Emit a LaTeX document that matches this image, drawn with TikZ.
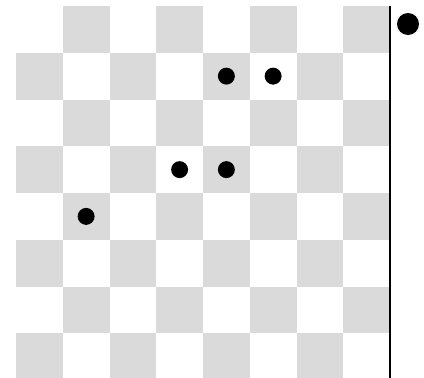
\documentclass[tikz,border=0pt]{standalone}
\definecolor{cellgrey}{RGB}{218,218,218}
\begin{document}
\begin{tikzpicture}[x=1pt,y=-1pt,
  cell/.style={fill=cellgrey,draw=none},
  stone/.style={circle,fill=black,inner sep=0pt,minimum size=17pt},
  bigstone/.style={circle,fill=black,inner sep=0pt,minimum size=22pt}]
\useasboundingbox[fill=white] (0,0) rectangle (424,378);
\def\cw{46.75}
\begin{scope}
\clip (0,0) rectangle (424,378);
\foreach \r in {0,...,7}{
  \foreach \c in {0,...,7}{
    \pgfmathtruncatemacro{\myparity}{mod(\r+\c,2)}
    \ifnum\myparity=1
      \fill[cell] ({16+\c*\cw},{6+\r*\cw}) rectangle ({16+(\c+1)*\cw},{6+(\r+1)*\cw});
    \fi
  }
}
\end{scope}
\coordinate (ltop) at (390,6);
\coordinate (lbot) at (390,378);
\draw[line width=1.1pt] (ltop) -- (lbot);
\node[stone] (s1) at ({16+4.5*\cw},{6+1.5*\cw}) {};
\node[stone] (s2) at ({16+5.5*\cw},{6+1.5*\cw}) {};
\node[stone] (s3) at ({16+3.5*\cw},{6+3.5*\cw}) {};
\node[stone] (s4) at ({16+4.5*\cw},{6+3.5*\cw}) {};
\node[stone] (s5) at ({16+1.5*\cw},{6+4.5*\cw}) {};
\node[bigstone] (b) at (408,24) {};
\end{tikzpicture}
\end{document}
